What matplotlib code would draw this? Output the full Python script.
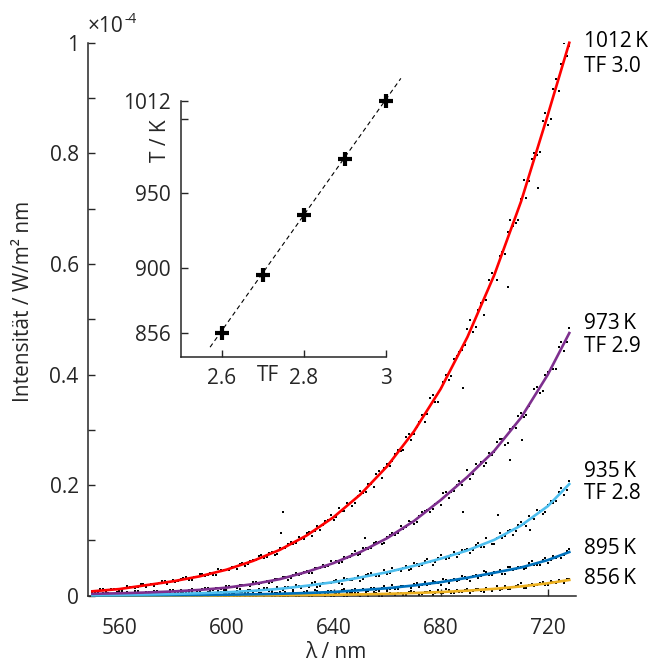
import numpy as np
import matplotlib.pyplot as plt

plt.rcParams['font.family'] = ['Open Sans', 'DejaVu Sans']

# fitted curves, intensity in units of 1e-4 W/m^2 nm
wl_fit = [550, 560, 570, 580, 590, 600, 610, 620, 630, 640,
          650, 660, 670, 680, 690, 700, 710, 720, 728]
fit_1012 = [0.008, 0.012, 0.019, 0.026, 0.035, 0.047, 0.063, 0.083, 0.109, 0.142,
            0.183, 0.234, 0.297, 0.374, 0.468, 0.58, 0.713, 0.87, 1.0]
fit_973 = [0.0034, 0.0044, 0.0058, 0.0077, 0.0105, 0.0145, 0.021, 0.030, 0.043, 0.059,
           0.079, 0.104, 0.135, 0.173, 0.215, 0.262, 0.322, 0.40, 0.475]
fit_935 = [0.0013, 0.0017, 0.0023, 0.0032, 0.0044, 0.0062, 0.0088, 0.0125, 0.018, 0.0245,
           0.033, 0.0425, 0.054, 0.067, 0.082, 0.101, 0.127, 0.162, 0.202]
fit_895 = [0.0005, 0.0006, 0.0008, 0.0010, 0.0013, 0.0018, 0.0025, 0.0035, 0.0049, 0.0068,
           0.0099, 0.0135, 0.0185, 0.0245, 0.0325, 0.0415, 0.051, 0.0645, 0.079]
fit_856 = [0.0001, 0.0001, 0.00015, 0.0002, 0.0003, 0.0004, 0.00055, 0.0008, 0.0012, 0.0017,
           0.0024, 0.0034, 0.0048, 0.0066, 0.0091, 0.0124, 0.0168, 0.0225, 0.0285]

# measured spectra, even wavelengths
wl_meas = np.arange(550, 729, 2)
meas_1012 = [0.0091, 0.0069, 0.0120, 0.0095, 0.0130, 0.0088, 0.0137, 0.0160, 0.0144, 0.0208,
             0.0165, 0.0210, 0.0210, 0.0257, 0.0212, 0.0276, 0.0263, 0.0314, 0.0287, 0.0333,
             0.0388, 0.0351, 0.0406, 0.0382, 0.0470, 0.0467, 0.0517, 0.0478, 0.0594, 0.0580,
             0.0637, 0.0718, 0.0674, 0.0764, 0.0742, 0.0859, 0.0864, 0.0978, 0.0952, 0.1033,
             0.1128, 0.1086, 0.1265, 0.1270, 0.1372, 0.1370, 0.1581, 0.1540, 0.1668, 0.1676,
             0.1890, 0.1872, 0.2027, 0.2208, 0.2124, 0.2387, 0.2434, 0.2637, 0.2630, 0.2921,
             0.2932, 0.3139, 0.3138, 0.3568, 0.3505, 0.3763, 0.3993, 0.3968, 0.4331, 0.4440,
             0.4830, 0.4762, 0.5174, 0.5085, 0.5703, 0.5784, 0.6143, 0.6176, 0.6799, 0.6745,
             0.7170, 0.7193, 0.7890, 0.7964, 0.8579, 0.8510, 0.9159, 0.9123, 0.9996, 0.9950]
meas_973 = [0.0021, 0.0059, 0.0034, 0.0057, 0.0015, 0.0052, 0.0047, 0.0030, 0.0081, 0.0047,
            0.0071, 0.0038, 0.0084, 0.0073, 0.0058, 0.0103, 0.0049, 0.0094, 0.0108, 0.0095,
            0.0082, 0.0142, 0.0108, 0.0139, 0.0118, 0.0169, 0.0158, 0.0133, 0.0198, 0.0187,
            0.0248, 0.0211, 0.0251, 0.0233, 0.0307, 0.0297, 0.0342, 0.0319, 0.0402, 0.0388,
            0.0439, 0.0418, 0.0508, 0.0560, 0.0531, 0.0590, 0.0591, 0.0696, 0.0699, 0.0803,
            0.0758, 0.0856, 0.0861, 0.0975, 0.0931, 0.1054, 0.1143, 0.1131, 0.1215, 0.1348,
            0.1291, 0.1442, 0.1530, 0.1517, 0.1662, 0.1636, 0.1882, 0.1870, 0.2011, 0.2010,
            0.2268, 0.2210, 0.2338, 0.2339, 0.2586, 0.2603, 0.2836, 0.2722, 0.3007, 0.3032,
            0.3311, 0.3277, 0.3542, 0.3782, 0.3702, 0.4048, 0.4108, 0.4505, 0.4429, 0.4833]
meas_935 = [0.0040, 0.0005, -0.0021, 0.0033, 0.0019, 0.0056, -0.0006, 0.0031, 0.0006, 0.0052,
            -0.0019, 0.0031, 0.0048, 0.0025, 0.0003, 0.0079, 0.0015, 0.0045, 0.0073, 0.0010,
            0.0060, 0.0041, 0.0075, 0.0014, 0.0058, 0.0100, 0.0044, 0.0084, 0.0063, 0.0111,
            0.0053, 0.0113, 0.0147, 0.0092, 0.0123, 0.0072, 0.0157, 0.0134, 0.0189, 0.0140,
            0.0184, 0.0238, 0.0163, 0.0236, 0.0227, 0.0274, 0.0228, 0.0317, 0.0279, 0.0323,
            0.0273, 0.0372, 0.0403, 0.0364, 0.0414, 0.0384, 0.0496, 0.0462, 0.0510, 0.0460,
            0.0584, 0.0543, 0.0622, 0.0616, 0.0606, 0.0736, 0.0666, 0.0743, 0.0705, 0.0830,
            0.0846, 0.0835, 0.0948, 0.0881, 0.0980, 0.0944, 0.1140, 0.1087, 0.1190, 0.1174,
            0.1326, 0.1269, 0.1404, 0.1546, 0.1485, 0.1648, 0.1685, 0.1875, 0.1824, 0.2076]
meas_895 = [-0.0025, 0.0017, 0.0041, -0.0009, 0.0030, -0.0033, 0.0009, 0.0025, 0.0001, 0.0050,
            -0.0016, 0.0017, -0.0024, 0.0036, 0.0010, -0.0008, 0.0044, -0.0031, 0.0027, 0.0018,
            -0.0014, 0.0053, 0.0006, 0.0037, -0.0019, 0.0030, 0.0049, 0.0000, 0.0019, 0.0069,
            0.0010, 0.0052, -0.0002, 0.0037, 0.0052, -0.0005, 0.0074, 0.0028, 0.0052, 0.0021,
            0.0083, 0.0047, 0.0085, 0.0014, 0.0081, 0.0068, 0.0055, 0.0122, 0.0051, 0.0114,
            0.0112, 0.0075, 0.0144, 0.0108, 0.0133, 0.0095, 0.0192, 0.0129, 0.0183, 0.0170,
            0.0213, 0.0162, 0.0251, 0.0204, 0.0244, 0.0195, 0.0293, 0.0279, 0.0261, 0.0350,
            0.0310, 0.0362, 0.0317, 0.0440, 0.0372, 0.0423, 0.0462, 0.0398, 0.0512, 0.0482,
            0.0527, 0.0497, 0.0619, 0.0559, 0.0644, 0.0590, 0.0718, 0.0716, 0.0729, 0.0845]
meas_856 = [0.0010, -0.0032, 0.0025, 0.0001, -0.0014, 0.0037, -0.0026, 0.0013, 0.0031, -0.0008,
            -0.0038, 0.0020, 0.0008, -0.0019, 0.0044, -0.0001, 0.0017, -0.0028, 0.0030, -0.0009,
            0.0036, -0.0042, 0.0012, 0.0025, -0.0014, -0.0002, 0.0043, -0.0019, 0.0008, 0.0023,
            -0.0031, 0.0036, -0.0003, 0.0019, -0.0019, 0.0053, -0.0006, 0.0015, -0.0023, 0.0035,
            0.0012, -0.0008, 0.0050, 0.0009, 0.0031, -0.0025, 0.0046, 0.0002, 0.0030, 0.0057,
            -0.0007, 0.0038, 0.0025, 0.0052, -0.0008, 0.0077, 0.0024, 0.0045, 0.0017, 0.0076,
            0.0067, 0.0014, 0.0058, 0.0087, 0.0046, 0.0056, 0.0113, 0.0043, 0.0096, 0.0066,
            0.0129, 0.0091, 0.0129, 0.0064, 0.0130, 0.0124, 0.0102, 0.0177, 0.0125, 0.0168,
            0.0222, 0.0141, 0.0210, 0.0186, 0.0244, 0.0196, 0.0246, 0.0290, 0.0221, 0.0304]

# measured spectra, odd wavelengths
wl_meas2 = np.arange(551, 728, 2)
meas2_1012 = [0.0075, 0.0113, 0.0072, 0.0113, 0.0130, 0.0108, 0.0170, 0.0149, 0.0152, 0.0204,
              0.0201, 0.0172, 0.0235, 0.0266, 0.0244, 0.0244, 0.0301, 0.0336, 0.0290, 0.0340,
              0.0384, 0.0368, 0.0367, 0.0478, 0.0460, 0.0462, 0.0526, 0.0578, 0.0543, 0.0623,
              0.0641, 0.0733, 0.0694, 0.0788, 0.0752, 0.0862, 0.0941, 0.0934, 0.1056, 0.1020,
              0.1144, 0.1175, 0.1184, 0.1352, 0.1462, 0.1421, 0.1530, 0.1670, 0.1627, 0.1811,
              0.1855, 0.2025, 0.1962, 0.2264, 0.2308, 0.2339, 0.2560, 0.2618, 0.2863, 0.2807,
              0.3050, 0.3275, 0.3284, 0.3629, 0.3510, 0.3871, 0.3904, 0.4273, 0.4406, 0.4526,
              0.4995, 0.4865, 0.5290, 0.5351, 0.5842, 0.5718, 0.6222, 0.6575, 0.6681, 0.6790,
              0.7517, 0.7507, 0.8005, 0.8033, 0.8735, 0.8614, 0.9345, 0.9620, 0.9765]
meas2_973 = [0.0025, 0.0037, 0.0047, 0.0018, 0.0062, 0.0031, 0.0061, 0.0045, 0.0079, 0.0036,
             0.0058, 0.0081, 0.0074, 0.0045, 0.0097, 0.0067, 0.0096, 0.0070, 0.0129, 0.0093,
             0.0114, 0.0132, 0.0105, 0.0141, 0.0110, 0.0182, 0.0150, 0.0195, 0.0190, 0.0177,
             0.0247, 0.0232, 0.0272, 0.0255, 0.0300, 0.0345, 0.0292, 0.0381, 0.0376, 0.0427,
             0.0410, 0.0506, 0.0505, 0.0518, 0.0621, 0.0634, 0.0604, 0.0683, 0.0747, 0.0734,
             0.0857, 0.0843, 0.0946, 0.0968, 0.0950, 0.1098, 0.1092, 0.1255, 0.1240, 0.1331,
             0.1330, 0.1511, 0.1553, 0.1568, 0.1696, 0.1866, 0.1764, 0.1896, 0.2071, 0.2105,
             0.2113, 0.2377, 0.2422, 0.2396, 0.2545, 0.2771, 0.2830, 0.2760, 0.3044, 0.3244,
             0.3229, 0.3424, 0.3744, 0.3659, 0.3998, 0.4122, 0.4108, 0.4581, 0.4596]
meas2_935 = [-0.0002, 0.0039, -0.0021, 0.0025, -0.0010, 0.0060, 0.0013, -0.0001, 0.0040, -0.0023,
             0.0054, 0.0017, 0.0034, -0.0004, 0.0070, 0.0014, 0.0051, 0.0013, 0.0068, 0.0039,
             0.0005, 0.0070, 0.0040, 0.0093, 0.0031, 0.0067, 0.0050, 0.0121, 0.0047, 0.0098,
             0.0085, 0.0053, 0.0131, 0.0096, 0.0157, 0.0106, 0.0149, 0.0109, 0.0181, 0.0174,
             0.0158, 0.0244, 0.0173, 0.0232, 0.0224, 0.0285, 0.0209, 0.0304, 0.0292, 0.0359,
             0.0305, 0.0386, 0.0374, 0.0349, 0.0472, 0.0411, 0.0467, 0.0448, 0.0538, 0.0485,
             0.0570, 0.0564, 0.0657, 0.0560, 0.0684, 0.0675, 0.0680, 0.0793, 0.0755, 0.0820,
             0.0781, 0.0920, 0.0884, 0.1035, 0.0940, 0.1039, 0.1046, 0.1170, 0.1105, 0.1271,
             0.1288, 0.1435, 0.1379, 0.1523, 0.1510, 0.1718, 0.1720, 0.1946, 0.1910]
meas2_895 = [0.0023, -0.0028, 0.0012, -0.0018, 0.0045, -0.0006, 0.0007, 0.0034, -0.0035, 0.0020,
             -0.0010, 0.0042, -0.0018, 0.0004, 0.0031, -0.0026, 0.0056, 0.0003, -0.0009, 0.0019,
             0.0044, -0.0025, 0.0031, 0.0002, 0.0042, -0.0012, 0.0017, 0.0064, -0.0001, 0.0034,
             -0.0020, 0.0047, 0.0024, 0.0069, 0.0006, 0.0039, 0.0017, 0.0069, 0.0011, 0.0060,
             0.0042, 0.0095, 0.0041, 0.0025, 0.0089, 0.0071, 0.0109, 0.0057, 0.0095, 0.0050,
             0.0128, 0.0092, 0.0131, 0.0089, 0.0170, 0.0129, 0.0118, 0.0178, 0.0172, 0.0135,
             0.0230, 0.0189, 0.0191, 0.0260, 0.0232, 0.0307, 0.0227, 0.0294, 0.0277, 0.0343,
             0.0273, 0.0367, 0.0365, 0.0427, 0.0373, 0.0432, 0.0393, 0.0515, 0.0459, 0.0526,
             0.0484, 0.0584, 0.0563, 0.0559, 0.0682, 0.0644, 0.0675, 0.0677, 0.0816]
meas2_856 = [0.0013, -0.0029, 0.0037, -0.0008, -0.0020, 0.0025, -0.0041, 0.0004, 0.0019, -0.0025,
             -0.0004, 0.0047, -0.0013, -0.0031, 0.0011, 0.0029, -0.0016, -0.0034, 0.0036, 0.0003,
             -0.0021, 0.0018, 0.0043, -0.0041, 0.0001, 0.0025, -0.0008, -0.0025, 0.0035, -0.0004,
             0.0012, -0.0033, 0.0031, -0.0011, 0.0050, 0.0002, -0.0018, 0.0022, -0.0023, 0.0039,
             -0.0003, 0.0017, 0.0051, -0.0006, -0.0026, 0.0036, 0.0019, -0.0010, 0.0056, 0.0011,
             0.0034, 0.0002, 0.0076, -0.0006, 0.0024, 0.0057, 0.0019, 0.0047, 0.0009, 0.0078,
             0.0046, 0.0025, 0.0073, 0.0020, 0.0106, 0.0056, 0.0099, 0.0055, 0.0076, 0.0101,
             0.0046, 0.0130, 0.0090, 0.0133, 0.0088, 0.0168, 0.0126, 0.0117, 0.0157, 0.0197,
             0.0132, 0.0194, 0.0174, 0.0230, 0.0187, 0.0272, 0.0232, 0.0262, 0.0296]

# stray points
wl_stray = [620.5, 621.2, 651.7, 688.4, 688.4, 701.4, 705.2, 705.8, 710.2, 713.3, 716.4]
val_stray = [0.113, 0.152, 0.104, 0.375, 0.152, 0.146, 0.559, 0.245, 0.282, 0.119, 0.737]

temps = ['1012', '973', '935', '895', '856']
tf_names = ['TF 3.0', 'TF 2.9', 'TF 2.8', '', '']
colors = ['#ff0000', '#7e2f8e', '#4dbeee', '#0072bd', '#edb120']

# inset: temperature vs TF
tf_vals = [2.6, 2.7, 2.8, 2.9, 3.0]
t_vals = [856, 895, 935, 973, 1012]
tf_line = [2.5716, 3.037]
t_line = [846.6, 1027.0]

fits = [fit_1012, fit_973, fit_935, fit_895, fit_856]
meas = [meas_1012, meas_973, meas_935, meas_895, meas_856]
meas2 = [meas2_1012, meas2_973, meas2_935, meas2_895, meas2_856]

fig = plt.figure(figsize=(6.61, 6.63), dpi=100)
ax = fig.add_axes([0.1337, 0.1015, 0.7377, 0.834])

for m, m2 in zip(meas, meas2):
    ax.plot(wl_meas, m, 's', color='black', ms=1.8, mew=0)
    ax.plot(wl_meas2, m2, 's', color='black', ms=1.8, mew=0)
ax.plot(wl_stray, val_stray, 's', color='black', ms=1.8, mew=0)
for f, c in zip(fits[::-1], colors[::-1]):
    ax.plot(wl_fit, f, color=c, lw=1.9, clip_on=False, zorder=3)

ax.set_xlim(548.5, 730.5)
ax.set_ylim(0, 1)
ax.set_xticks([560, 600, 640, 680, 720])
ax.set_yticks([0, 0.2, 0.4, 0.6, 0.8, 1.0])
ax.set_yticklabels(['0', '0.2', '0.4', '0.6', '0.8', '1'])
ax.set_yticks([0.1, 0.3, 0.5, 0.7, 0.9], minor=True)
ax.tick_params(which='both', direction='in', length=5, width=1, colors='#262626', labelsize=15)
ax.tick_params(axis='x', pad=16)
ax.tick_params(axis='y', pad=7)
for s in ['top', 'right']:
    ax.spines[s].set_visible(False)
for s in ['left', 'bottom']:
    ax.spines[s].set_color('#262626')
    ax.spines[s].set_linewidth(1.1)

# curve labels at right
label_y = [(1.003, 0.957), (0.4926, 0.450), (0.2255, 0.184), (0.0857, None), (0.0315, None)]
for t, tf, (y1, y2) in zip(temps, tf_names, label_y):
    ax.text(733.4, y1, t + '\u2009K', fontsize=15, va='center', ha='left', clip_on=False)
    if tf:
        ax.text(733.4, y2, tf, fontsize=15, va='center', ha='left', clip_on=False)

fig.text(88 / 661, 1 - 31.7 / 663, '\u00d710', fontsize=15, color='#262626', va='baseline')
fig.text(125 / 661, 1 - 23 / 663, '-4', fontsize=10, color='#262626', va='baseline')
fig.text(24 / 661, 1 - 301 / 663, 'Intensität / W/m² nm', fontsize=15, rotation=90,
         ha='center', va='center', color='#262626')
fig.text(336 / 661, 1 - 652 / 663, 'λ / nm', fontsize=15, ha='center', va='center',
         color='#262626')

# inset
ax2 = fig.add_axes([0.2734, 0.4615, 0.3101, 0.3866])
ax2.plot(tf_line, t_line, '--', color='black', lw=0.8, dashes=(4, 3), clip_on=False)
ax2.plot(tf_vals, t_vals, '+', color='black', ms=10, mew=3, clip_on=False)
ax2.set_xlim(2.5, 3.0)
ax2.set_ylim(840, 1012)
ax2.set_xticks([2.6, 2.8, 3.0])
ax2.set_xticklabels(['2.6', '2.8', '3'])
ax2.set_yticks([856, 900, 950, 1000, 1012])
ax2.set_yticklabels(['856', '900', '950', '', '1012'])
ax2.tick_params(direction='in', length=5, width=1, colors='#262626', labelsize=15)
ax2.tick_params(axis='x', pad=8)
ax2.tick_params(axis='y', pad=7)
ax2.patch.set_alpha(0)
for s in ['top', 'right']:
    ax2.spines[s].set_visible(False)
for s in ['left', 'bottom']:
    ax2.spines[s].set_color('#262626')
    ax2.spines[s].set_linewidth(1.1)
fig.text(268 / 661, 1 - 375.5 / 663, 'TF', fontsize=15, ha='center', va='center', color='#262626')
fig.text(160 / 661, 1 - 141 / 663, 'T / K', fontsize=15, rotation=90, ha='center', va='center',
         color='#262626')

fig.savefig('out.png', dpi=100)
